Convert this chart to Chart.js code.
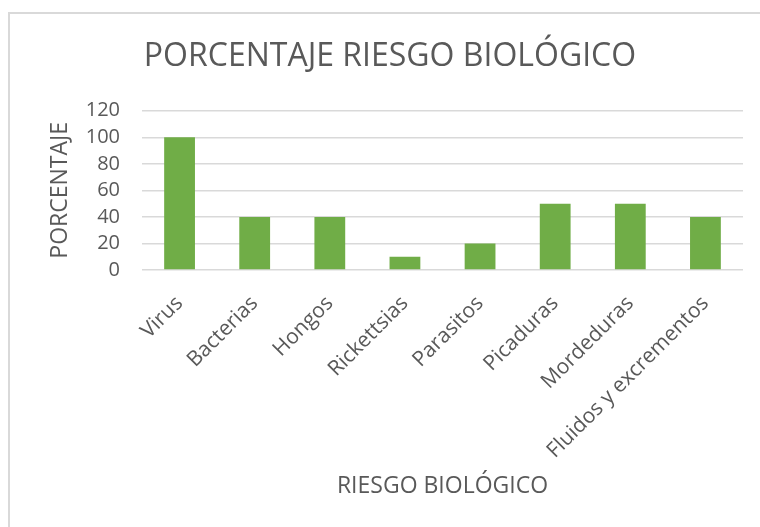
<!DOCTYPE html>
<html>
<head>
<meta charset="utf-8">
<script src="https://cdn.jsdelivr.net/npm/chart.js@4.4.1/dist/chart.umd.min.js"></script>
<style>
  html, body { margin: 0; padding: 0; background: #ffffff; }
  body { width: 760px; height: 527px; position: relative; overflow: hidden; }
  #frame { position: absolute; left: 8px; top: 12px; width: 800px; height: 600px;
           border-left: 2px solid #d9d9d9; border-top: 2px solid #d9d9d9; }
  #wrap { position: absolute; left: 0; top: 0; width: 760px; height: 527px; }
</style>
</head>
<body>
<div id="frame"></div>
<div id="wrap"><canvas id="c" width="760" height="527"></canvas></div>
<script>
const categories = ["Virus", "Bacterias", "Hongos", "Rickettsias", "Parasitos", "Picaduras", "Mordeduras", "Fluidos y excrementos"];
const porcentaje = [100, 40, 40, 10, 20, 50, 50, 40];
const yTicks = [0, 20, 40, 60, 80, 100, 120];

const chartTitle = "PORCENTAJE RIESGO BIOLÓGICO";
const yTitle = "PORCENTAJE";
const xTitle = "RIESGO BIOLÓGICO";

const FONT = "'Open Sans', 'Noto Sans', sans-serif";
const TXT = "#595959";

new Chart(document.getElementById("c"), {
  type: "bar",
  data: {
    labels: categories,
    datasets: [{
      data: porcentaje,
      backgroundColor: "#70AD47",
      borderWidth: 0,
      categoryPercentage: 1.0,
      barPercentage: 0.41
    }]
  },
  options: {
    responsive: false,
    animation: false,
    events: [],
    layout: { padding: { left: 37, right: 17, top: 20, bottom: 0 } },
    plugins: {
      legend: { display: false },
      tooltip: { enabled: false },
      title: {
        display: true,
        text: chartTitle,
        color: TXT,
        font: { family: FONT, size: 32, weight: "normal", lineHeight: 1.2 },
        padding: { top: 17.5, bottom: 34.8 }
      }
    },
    scales: {
      x: {
        grid: { display: false, drawTicks: false },
        border: { display: false },
        ticks: {
          color: TXT,
          font: { family: FONT, size: 21 },
          minRotation: 45,
          maxRotation: 45,
          autoSkip: false,
          padding: 21
        },
        title: {
          display: true,
          text: xTitle,
          color: TXT,
          font: { family: FONT, size: 23, lineHeight: 1.2 },
          padding: { top: 0, bottom: 27 }
        },
        afterFit(scale) { scale.height = 527 - 270; }
      },
      y: {
        min: 0,
        max: 120,
        afterBuildTicks(scale) { scale.ticks = yTicks.map(v => ({ value: v })); },
        grid: { color: "#d9d9d9", lineWidth: 1.5, drawTicks: false },
        border: { display: false },
        ticks: {
          color: TXT,
          font: { family: FONT, size: 20 },
          padding: 22,
          autoSkip: false
        },
        title: {
          display: true,
          text: yTitle,
          color: TXT,
          font: { family: FONT, size: 23, lineHeight: 1.2 },
          padding: { top: 10, bottom: 0 }
        },
        afterFit(scale) { scale.width = 142 - 37; }
      }
    }
  }
});
</script>
</body>
</html>
